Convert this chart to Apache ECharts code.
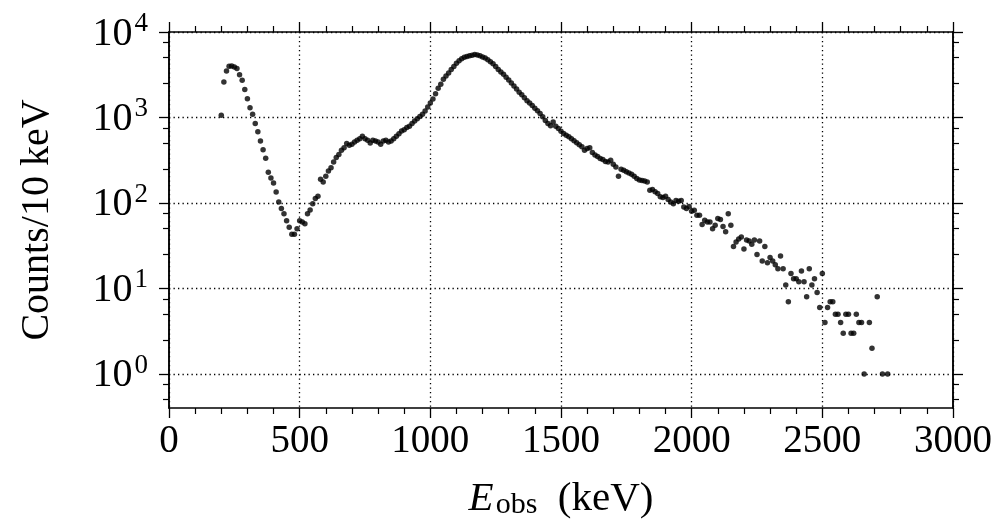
<!DOCTYPE html>
<html>
<head>
<meta charset="utf-8">
<script src="https://cdn.jsdelivr.net/npm/echarts@6/dist/echarts.min.js"></script>
<style>html,body{margin:0;padding:0;background:#fff}#c{width:995px;height:528px}</style>
</head>
<body>
<div id="c"></div>
<script>
// Observed energy (keV), bin centres
const energies = [
 200,210,220,230,240,250,260,270,280,290,300,310,320,330,340,350,360,370,380,390,
 400,410,420,430,440,450,460,470,480,490,500,510,520,530,540,550,560,570,580,590,
 600,610,620,630,640,650,660,670,680,690,700,710,720,730,740,750,760,770,780,790,
 800,810,820,830,840,850,860,870,880,890,900,910,920,930,940,950,960,970,980,990,
 1000,1010,1020,1030,1040,1050,1060,1070,1080,1090,1100,1110,1120,1130,1140,1150,1160,1170,1180,1190,
 1200,1210,1220,1230,1240,1250,1260,1270,1280,1290,1300,1310,1320,1330,1340,1350,1360,1370,1380,1390,
 1400,1410,1420,1430,1440,1450,1460,1470,1480,1490,1500,1510,1520,1530,1540,1550,1560,1570,1580,1590,
 1600,1610,1620,1630,1640,1650,1660,1670,1680,1690,1700,1710,1720,1730,1740,1750,1760,1770,1780,1790,
 1800,1810,1820,1830,1840,1850,1860,1870,1880,1890,1900,1910,1920,1930,1940,1950,1960,1970,1980,1990,
 2000,2010,2020,2030,2040,2050,2060,2070,2080,2090,2100,2110,2120,2130,2140,2150,2160,2170,2180,2190,
 2200,2210,2220,2230,2240,2250,2260,2270,2280,2290,2300,2310,2320,2330,2340,2350,2360,2370,2380,2390,
 2400,2410,2420,2430,2440,2450,2460,2470,2480,2490,2500,2510,2520,2530,2540,2550,2560,2570,2580,2590,
 2600,2610,2620,2630,2640,2650,2660,2680,2690,2710,2730,2750
];
// Counts per 10 keV bin
const counts = [
 1060,2600,3500,3970,4000,3900,3730,3170,2720,2120,1660,1300,1090,850,680,530,420,334,229,196,
 171,134,103,86,75,62,52,43,43,50,62,60,57,75,83,98,113,120,190,176,
 205,237,259,302,340,370,413,444,495,473,486,517,541,566,603,566,541,502,541,531,
 517,486,531,541,517,531,566,603,647,695,721,762,789,849,911,970,1030,1090,1190,1330,
 1480,1650,1900,2200,2450,2800,3050,3320,3650,3950,4300,4600,4880,5050,5180,5280,5340,5440,5380,5260,
 5100,4950,4750,4500,4250,3950,3650,3400,3200,2950,2750,2540,2340,2150,1980,1850,1700,1570,1480,1380,
 1280,1200,1110,1020,920,850,800,885,790,741,690,650,620,595,566,535,508,480,455,413,
 433,444,390,365,350,332,322,305,302,316,284,264,205,248,241,232,225,217,205,193,
 186,183,181,176,141,144,135,129,118,116,120,110,103,98,107,105,107,90,86,91,
 80,82,72,72,56,63,60,60,50,55,66,64,53,46,75,55,31,35,38,40,
 29,37,36,33,37,25,36,21,31,20,23,21,19,17,24,17,11,7,15,13,
 13,12,16,12,8,17,11,13,9,6,15,4,6,7,7,5,5,4,3,5,
 5,3,3,5,4,4,1,4,2,8,1,1
];
// Axis ticks
const xTicks = [0, 500, 1000, 1500, 2000, 2500, 3000];
const yMajor = [1, 10, 100, 1000, 10000];
const yMinor = [0.5, 0.75, 2.5, 5, 7.5, 25, 50, 75, 250, 500, 750, 2500, 5000, 7500];
const supMap = {1: '0', 10: '1', 100: '2', 1000: '3', 10000: '4'};

const points = energies.map((e, i) => [e, counts[i]]);

const FONT = 'Liberation Serif';
const FS = 39;
const black = '#000';
const axisLine = {show: true, lineStyle: {color: black, width: 1.5}};
const gridDot = {show: true, lineStyle: {color: '#000', width: 1.3, type: [1.3, 3.2]}};

function xAx(pos, labels) {
  return {
    type: 'value', position: pos, min: xTicks[0], max: xTicks[xTicks.length - 1], interval: 500,
    axisLine: axisLine,
    axisTick: {show: true, length: 10, lineStyle: {color: black, width: 1.3}},
    minorTick: {show: true, splitNumber: 5, length: 6, lineStyle: {color: black, width: 1.2}},
    splitLine: labels ? gridDot : {show: false},
    axisLabel: labels ? {show: true, color: black, fontFamily: FONT, fontSize: FS, margin: 14,
      formatter: v => String(v)} : {show: false},
    name: labels ? '{it|E}{sub|obs}{n|  (keV)}' : '',
    nameLocation: 'middle', nameGap: 66,
    nameTextStyle: {
      color: black, fontFamily: FONT,
      rich: {
        it: {fontFamily: FONT, fontStyle: 'italic', fontSize: 41, color: black, lineHeight: 46, verticalAlign: 'bottom'},
        sub: {fontFamily: FONT, fontSize: 30, color: black, lineHeight: 36, verticalAlign: 'bottom', padding: [0, 0, 0, 2]},
        n: {fontFamily: FONT, fontSize: 41, color: black, lineHeight: 46, verticalAlign: 'bottom'}
      }
    }
  };
}
function yAx(pos, major, labels) {
  const vals = major ? yMajor : yMinor;
  return {
    type: 'log', logBase: 10, position: pos, min: 0.4, max: 10000, offset: 0,
    axisLine: axisLine,
    axisTick: {show: true, customValues: vals, length: major ? 10 : 6, lineStyle: {color: black, width: major ? 1.3 : 1.2}},
    minorTick: {show: false},
    splitLine: (major && labels) ? gridDot : {show: false},
    axisLabel: labels ? {
      show: true, customValues: yMajor, margin: 21, color: black, fontFamily: FONT, fontSize: FS,
      formatter: v => '{b|10}{s|' + supMap[Math.round(v)] + '}',
      rich: {
        b: {fontFamily: FONT, fontSize: 40, color: black, lineHeight: 44, verticalAlign: 'bottom'},
        s: {fontFamily: FONT, fontSize: 27, color: black, lineHeight: 44, verticalAlign: 'top', padding: [0, 0, 0, 2]}
      }
    } : {show: false},
    name: labels ? 'Counts/10 keV' : '',
    nameLocation: 'middle', nameGap: 112, nameRotate: 90,
    nameTextStyle: {color: black, fontFamily: FONT, fontSize: 40}
  };
}

const chart = echarts.init(document.getElementById('c'), null, {renderer: 'canvas'});
chart.setOption({
  animation: false,
  backgroundColor: '#fff',
  grid: {left: 169, right: 38, top: 32, bottom: 120, containLabel: false},
  xAxis: [xAx('bottom', true), xAx('top', false)],
  yAxis: [yAx('left', true, true), yAx('left', false, false), yAx('right', true, false), yAx('right', false, false)],
  series: [{
    type: 'scatter', xAxisIndex: 0, yAxisIndex: 0,
    symbol: 'circle', symbolSize: 5.5,
    itemStyle: {color: '#000'},
    data: points
  }]
});
</script>
</body>
</html>
